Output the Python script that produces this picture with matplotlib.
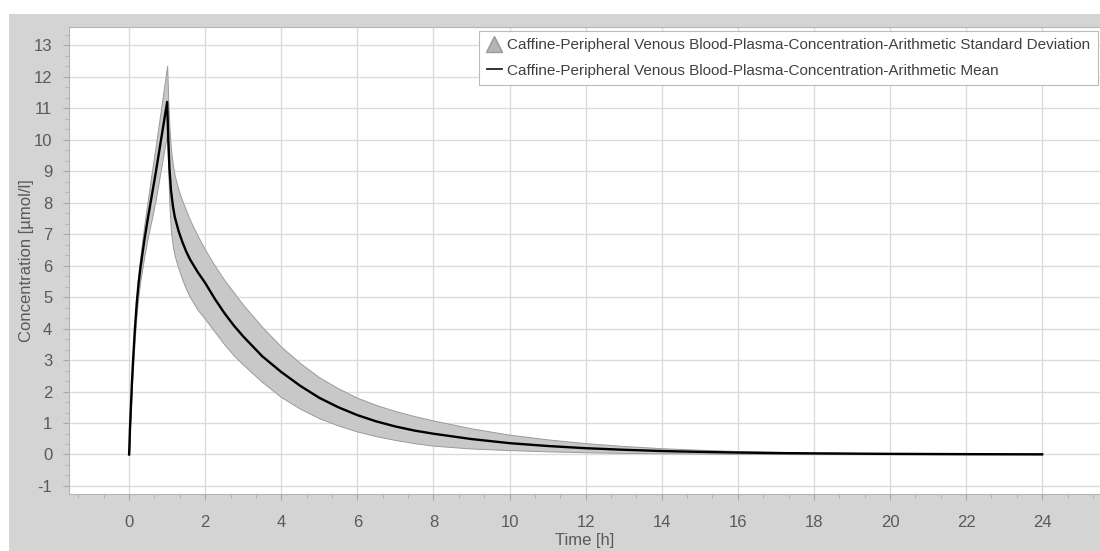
import matplotlib
matplotlib.use("Agg")
import matplotlib.pyplot as plt
from matplotlib.lines import Line2D
from matplotlib.patches import Rectangle
from matplotlib.ticker import MultipleLocator, AutoMinorLocator

# values
time_h = [0, 0.025, 0.05, 0.075, 0.1, 0.15, 0.2, 0.25, 0.3, 0.4, 0.5, 0.6, 0.7, 0.8, 0.9, 1.0,
          1.03, 1.06, 1.1, 1.15, 1.2, 1.3, 1.4, 1.5, 1.6, 1.8,
          2.0, 2.25, 2.5, 2.75, 3,
          3.5, 4, 4.5, 5, 5.5, 6, 6.5, 7, 7.5, 8,
          9, 10, 11, 12, 13, 14, 15, 16, 17, 18,
          20, 22, 24]
mean_conc = [0, 0.9, 1.6, 2.3, 2.9, 3.95, 4.8, 5.45, 5.95, 6.8, 7.55, 8.25, 8.95, 9.7, 10.45, 11.2,
             10.0, 9.1, 8.4, 7.9, 7.55, 7.1, 6.75, 6.45, 6.2, 5.8,
             5.45, 4.95, 4.5, 4.1, 3.75,
             3.12, 2.62, 2.18, 1.8, 1.5, 1.25, 1.05, 0.89, 0.76, 0.66,
             0.49, 0.36, 0.27, 0.2, 0.15, 0.11, 0.083, 0.062, 0.046, 0.035,
             0.02, 0.011, 0.006]
sd_upper = [0, 0.95, 1.7, 2.45, 3.1, 4.2, 5.1, 5.8, 6.35, 7.3, 8.15, 9.0, 9.8, 10.65, 11.5, 12.35,
            11.2, 10.4, 9.7, 9.2, 8.85, 8.4, 8.05, 7.75, 7.45, 6.95,
            6.5, 6.0, 5.55, 5.15, 4.75,
            4.05, 3.42, 2.9, 2.45, 2.1, 1.8, 1.57, 1.38, 1.22, 1.08,
            0.83, 0.63, 0.48, 0.36, 0.27, 0.2, 0.15, 0.11, 0.085, 0.063,
            0.036, 0.021, 0.012]
sd_lower = [0, 0.85, 1.5, 2.15, 2.7, 3.7, 4.5, 5.1, 5.55, 6.3, 6.95, 7.5, 8.1, 8.8, 9.5, 10.2,
            9.0, 7.9, 7.1, 6.6, 6.3, 5.9, 5.55, 5.25, 5.0, 4.6,
            4.3, 3.9, 3.5, 3.15, 2.85,
            2.3, 1.82, 1.45, 1.15, 0.92, 0.73, 0.58, 0.46, 0.36, 0.28,
            0.19, 0.14, 0.1, 0.07, 0.05, 0.04, 0.03, 0.022, 0.016, 0.012,
            0.006, 0.003, 0.002]

sd_label = "Caffine-Peripheral Venous Blood-Plasma-Concentration-Arithmetic Standard Deviation"
mean_label = "Caffine-Peripheral Venous Blood-Plasma-Concentration-Arithmetic Mean"

plt.rcParams['font.family'] = ['Liberation Sans', 'DejaVu Sans']
plt.rcParams['axes.unicode_minus'] = False

fig = plt.figure(figsize=(11, 5.51), dpi=100)
fig.patch.set_facecolor('white')
fig.add_artist(Rectangle((9 / 1100, 0), 1, 1 - 14 / 551, transform=fig.transFigure,
                         facecolor='#d4d4d4', edgecolor='none', zorder=0))

ax = fig.add_axes([69 / 1100, 57 / 551, 1031 / 1100, 467 / 551])
ax.set_facecolor('white')

ax.fill_between(time_h, sd_lower, sd_upper, facecolor='#c8c8c8', edgecolor='#9a9a9a',
                linewidth=0.7, zorder=2)
ax.plot(time_h, mean_conc, color='black', linewidth=1.7, zorder=3)

ax.set_xlim(-1.58, 25.52)
ax.set_ylim(-1.255, 13.58)
ax.xaxis.set_major_locator(MultipleLocator(2))
ax.xaxis.set_minor_locator(AutoMinorLocator(3))
ax.yaxis.set_major_locator(MultipleLocator(1))
ax.yaxis.set_minor_locator(AutoMinorLocator(3))

ax.grid(True, which='major', color='#dcdcdc', linewidth=1.0, zorder=0)
ax.set_axisbelow(True)
for side in ['left', 'top', 'bottom']:
    ax.spines[side].set_color('#b4b4b4')
ax.spines['right'].set_visible(False)

ax.tick_params(which='major', length=4, color='#a8a8a8', labelcolor='#5a5a5a',
               labelsize=12)
ax.tick_params(which='minor', length=3, color='#b0b0b0')
ax.tick_params(axis='x', which='major', pad=11)
ax.tick_params(axis='y', which='major', pad=8)

ax.set_xlabel('Time [h]', fontsize=12, color='#5a5a5a', labelpad=2)
ax.set_ylabel('Concentration [µmol/l]', fontsize=12, color='#5a5a5a', labelpad=0)

handles = [
    Line2D([], [], marker='^', markersize=11, color='#b4b4b4', markeredgecolor='#999999',
           linestyle='none'),
    Line2D([], [], color='#222222', linewidth=1.3),
]
leg = ax.legend(handles, [sd_label, mean_label], loc='upper right',
                bbox_to_anchor=(0.998, 0.992), fontsize=11, frameon=True,
                fancybox=False, framealpha=1, edgecolor='#bbbbbb',
                handlelength=1.0, handletextpad=0.35, borderpad=0.5,
                labelspacing=0.75, borderaxespad=0)
for t in leg.get_texts():
    t.set_color('#404040')
leg.get_frame().set_linewidth(0.8)

fig.savefig('out.png', dpi=100)
